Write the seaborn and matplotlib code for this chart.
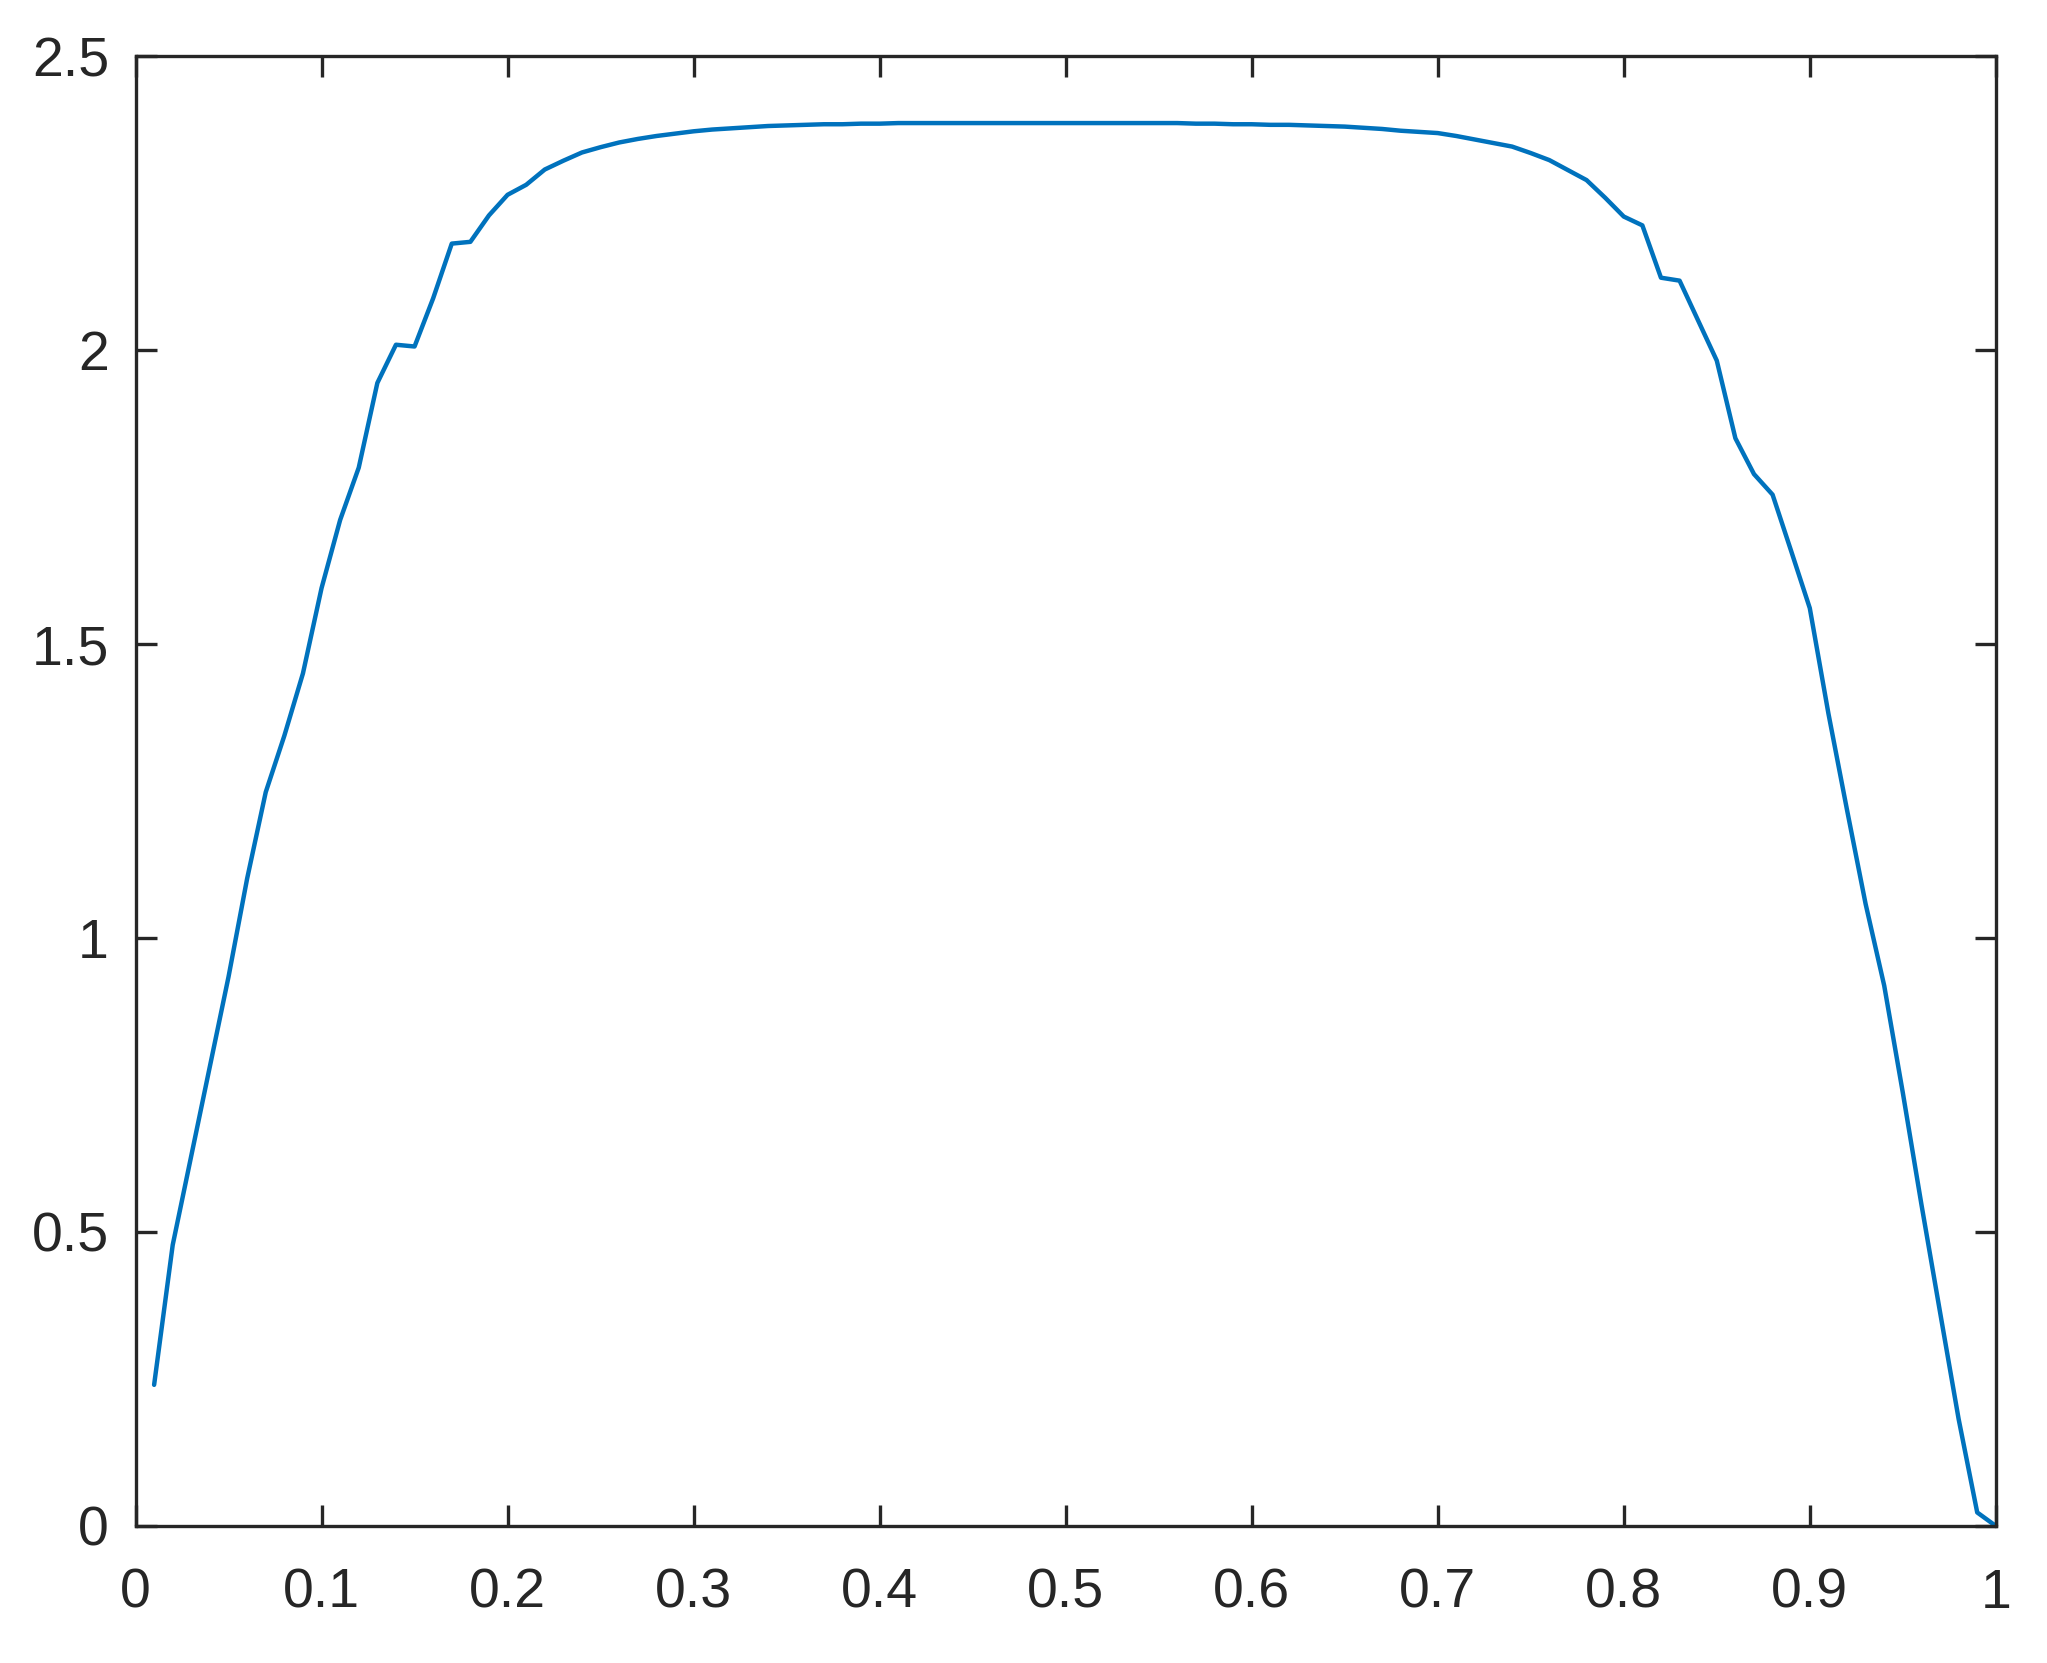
import numpy as np
import pandas as pd
import matplotlib
matplotlib.use("Agg")
import matplotlib.pyplot as plt
import seaborn as sns

# values
x_vals = [round(0.01 * i, 2) for i in range(1, 101)]
y_vals = [
    0.240, 0.478, 0.630, 0.782, 0.934, 1.101, 1.248, 1.344, 1.450, 1.595,
    1.711, 1.800, 1.944, 2.009, 2.006, 2.088, 2.181, 2.184, 2.229, 2.264,
    2.281, 2.307, 2.322, 2.336, 2.345, 2.353, 2.359, 2.364, 2.368, 2.372,
    2.375, 2.377, 2.379, 2.381, 2.382, 2.383, 2.384, 2.384, 2.385, 2.385,
    2.386, 2.386, 2.386, 2.386, 2.386, 2.386, 2.386, 2.386, 2.386, 2.386,
    2.386, 2.386, 2.386, 2.386, 2.386, 2.386, 2.385, 2.385, 2.384, 2.384,
    2.383, 2.383, 2.382, 2.381, 2.380, 2.378, 2.376, 2.373, 2.371, 2.369,
    2.364, 2.358, 2.352, 2.346, 2.335, 2.323, 2.306, 2.289, 2.259, 2.227,
    2.212, 2.123, 2.118, 2.050, 1.982, 1.850, 1.789, 1.754, 1.658, 1.561,
    1.382, 1.218, 1.058, 0.919, 0.737, 0.547, 0.364, 0.182, 0.023, 0.000,
]
x_ticks = [0, 0.1, 0.2, 0.3, 0.4, 0.5, 0.6, 0.7, 0.8, 0.9, 1]
x_labels = ["0", "0.1", "0.2", "0.3", "0.4", "0.5", "0.6", "0.7", "0.8", "0.9", "1"]
y_ticks = [0, 0.5, 1, 1.5, 2, 2.5]
y_labels = ["0", "0.5", "1", "1.5", "2", "2.5"]

df = pd.DataFrame({"x": x_vals, "y": y_vals})

sns.set_theme(style="white")
plt.rcParams["font.family"] = ["Liberation Sans", "DejaVu Sans"]

fig = plt.figure(figsize=(20.47, 16.63), dpi=100)
ax = fig.add_axes([0.0662, 0.0824, 0.9088, 0.8839])

sns.lineplot(data=df, x="x", y="y", ax=ax, color="#0072BD", linewidth=3.2)

ax.set_xlim(0, 1)
ax.set_ylim(0, 2.5)
ax.set_xticks(x_ticks)
ax.set_xticklabels(x_labels)
ax.set_yticks(y_ticks)
ax.set_yticklabels(y_labels)
ax.set_xlabel("")
ax.set_ylabel("")

edge = "#262626"
for s in ax.spines.values():
    s.set_visible(True)
    s.set_color(edge)
    s.set_linewidth(2.4)

ax.tick_params(axis="both", which="major", direction="in", length=15, width=2.4,
               colors=edge, labelsize=40, top=True, right=True,
               bottom=True, left=True)
ax.tick_params(axis="x", pad=30)
ax.tick_params(axis="y", pad=19)

fig.savefig("out.png", dpi=100)
